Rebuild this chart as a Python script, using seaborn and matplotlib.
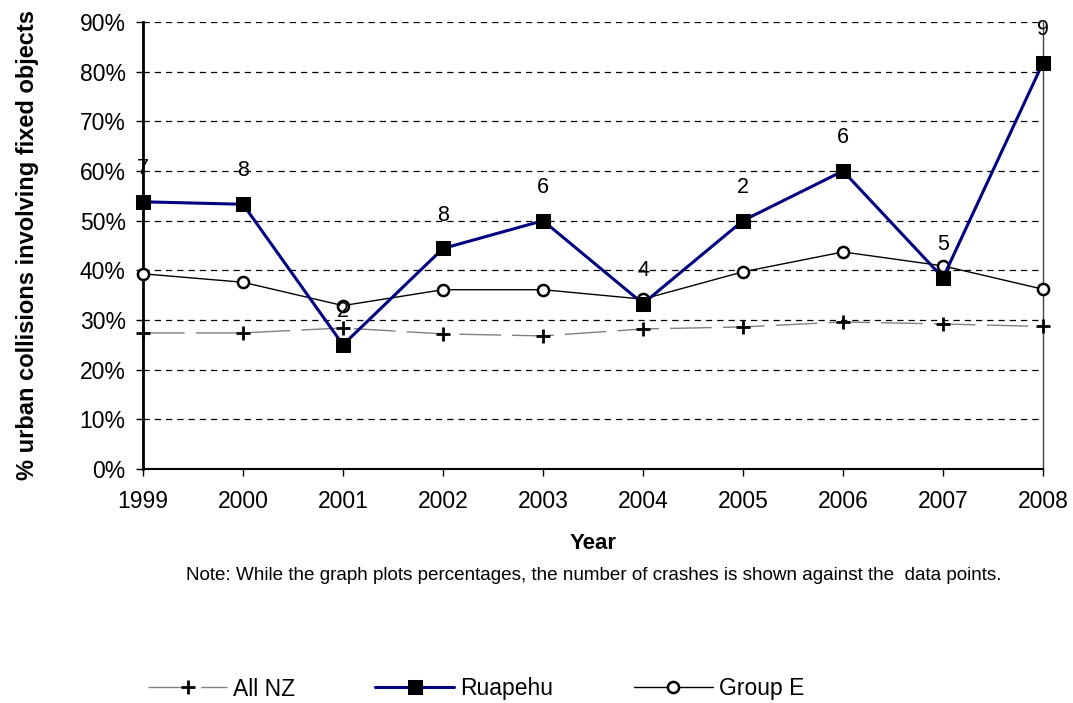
import matplotlib
matplotlib.use("Agg")
import matplotlib.pyplot as plt
from matplotlib import font_manager
import seaborn as sns

# Datos
years = [1999, 2000, 2001, 2002, 2003, 2004, 2005, 2006, 2007, 2008]
all_nz = [27.4, 27.4, 28.4, 27.2, 26.8, 28.2, 28.6, 29.6, 29.2, 28.7]
ruapehu = [53.8, 53.3, 25.0, 44.4, 50.0, 33.3, 50.0, 60.0, 38.5, 81.8]
group_e = [39.3, 37.6, 32.9, 36.1, 36.1, 34.2, 39.7, 43.7, 40.9, 36.2]
crash_counts = [7, 8, 2, 8, 6, 4, 2, 6, 5, 9]
y_ticks = [0, 10, 20, 30, 40, 50, 60, 70, 80, 90]
note = "Note: While the graph plots percentages, the number of crashes is shown against the  data points."

sns.set_style("white")
plt.rcParams["font.family"] = ["Liberation Sans", "DejaVu Sans"]
plt.rcParams["text.color"] = "black"
plt.rcParams["axes.labelcolor"] = "black"
plt.rcParams["xtick.color"] = "black"
plt.rcParams["ytick.color"] = "black"

fig = plt.figure(figsize=(10.73, 7.03), dpi=100)
ax = fig.add_axes([143 / 1073, 1 - 469 / 703, 900 / 1073, 447 / 703])

# Lineas
sns.lineplot(x=years, y=all_nz, ax=ax, color="#808080", linewidth=1,
             linestyle=(0, (30, 8)), marker="+", markersize=10,
             markeredgewidth=2, markeredgecolor="black", label="All NZ",
             clip_on=False, zorder=3)
sns.lineplot(x=years, y=group_e, ax=ax, color="black", linewidth=1,
             marker="o", markersize=8, markerfacecolor="white",
             markeredgewidth=1.8, markeredgecolor="black", label="Group E",
             clip_on=False, zorder=4)
sns.lineplot(x=years, y=ruapehu, ax=ax, color="#000080", linewidth=2.2,
             marker="s", markersize=9.5, markerfacecolor="black",
             markeredgecolor="black", label="Ruapehu",
             clip_on=False, zorder=5)

# Numero de choques sobre cada punto
for yr, val, n in zip(years, ruapehu, crash_counts):
    ax.annotate(str(n), (yr, val), xytext=(0, 24), textcoords="offset points",
                ha="center", va="center", fontsize=15.5, color="black",
                annotation_clip=False, zorder=6)

ax.set_xlim(1999, 2008)
ax.set_ylim(0, 90)
ax.set_xticks(years)
ax.set_xticklabels([str(y) for y in years])
ax.set_yticks(y_ticks)
ax.set_yticklabels([f"{v}%" for v in y_ticks])
ax.tick_params(axis="both", labelsize=16.5, direction="out", length=5,
               width=1, color="black", labelcolor="black",
               left=True, bottom=True)
ax.tick_params(axis="y", pad=7.5)
ax.tick_params(axis="x", pad=10)

ax.yaxis.grid(True, linestyle=(0, (5, 4)), color="black", linewidth=0.9)
ax.set_axisbelow(True)

ax.spines["top"].set_visible(False)
ax.spines["left"].set_linewidth(2)
ax.spines["left"].set_color("black")
ax.spines["bottom"].set_linewidth(1.5)
ax.spines["bottom"].set_color("black")
ax.spines["right"].set_linewidth(1)
ax.spines["right"].set_color("#444444")

ax.set_xlabel("Year", fontsize=16, fontweight="bold")
ax.xaxis.set_label_coords(0.5, -0.166)
ax.xaxis.label.set_va("center")
ax.set_ylabel("% urban collisions involving fixed objects", fontsize=17,
              fontweight="bold")
ax.yaxis.set_label_coords(-0.128, 0.5)
ax.yaxis.label.set_va("center")

# Nota en letra estrecha si existe
names = {f.name for f in font_manager.fontManager.ttflist}
note_family = "Liberation Sans Narrow" if "Liberation Sans Narrow" in names else "Liberation Sans"
note_txt = fig.text(594 / 1073, 1 - 575 / 703, note, ha="center", va="center",
                    fontsize=16.5, family=note_family)
fig.canvas.draw()
w = note_txt.get_window_extent().width
note_txt.set_fontsize(16.5 * 821 / w)

# Leyenda abajo
handles, labels = ax.get_legend_handles_labels()
order = [labels.index(l) for l in ["All NZ", "Ruapehu", "Group E"]]
ax.get_legend().remove()
fig.legend([handles[i] for i in order], [labels[i] for i in order],
           loc="center left", bbox_to_anchor=(148 / 1073, 1 - 689 / 703),
           ncol=3, frameon=False, fontsize=16.5, handlelength=3.45,
           handletextpad=0.26, columnspacing=3.5, borderpad=0,
           borderaxespad=0)

fig.savefig("out.png", dpi=100)
